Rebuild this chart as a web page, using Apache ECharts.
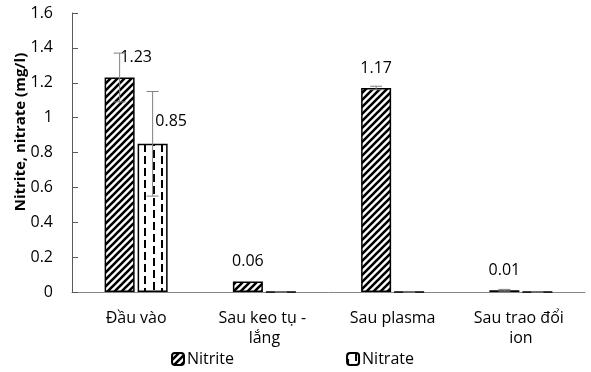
<!DOCTYPE html>
<html>
<head>
<meta charset="utf-8">
<script src="https://cdn.jsdelivr.net/npm/echarts@6/dist/echarts.min.js"></script>
<style>
html,body{margin:0;padding:0;background:#fff;}
#chart{width:591px;height:372px;}
</style>
</head>
<body>
<div id="chart"></div>
<script>
// ---- data ----
var categories = ['Đầu vào', 'Sau keo tụ - lắng', 'Sau plasma', 'Sau trao đổi ion'];
var seriesNames = ['Nitrite', 'Nitrate'];
var nitrite = [1.23, 0.06, 1.17, 0.01];
var nitrate = [0.85, 0, 0, 0];
var nitriteErr = [0.14, 0, 0.01, 0.005];
var nitrateErr = [0.30, 0, 0, 0];
var yTicks = [0, 0.2, 0.4, 0.6, 0.8, 1, 1.2, 1.4, 1.6];
var yTitle = 'Nitrite, nitrate (mg/l)';

// ---- patterns ----
function stripePattern() {
  var s = 7, c = document.createElement('canvas');
  c.width = s; c.height = s;
  var g = c.getContext('2d');
  g.fillStyle = '#fff'; g.fillRect(0, 0, s, s);
  g.strokeStyle = '#000'; g.lineWidth = 2.6;
  g.beginPath();
  g.moveTo(-1, s + 1); g.lineTo(s + 1, -1);
  g.moveTo(-1, 1); g.lineTo(1, -1);
  g.moveTo(s - 1, s + 1); g.lineTo(s + 1, s - 1);
  g.stroke();
  return c;
}
function dashPattern() {
  var w = 17, h = 12, c = document.createElement('canvas');
  c.width = w; c.height = h;
  var g = c.getContext('2d');
  g.fillStyle = '#fff'; g.fillRect(0, 0, w, h);
  g.fillStyle = '#000';
  g.fillRect(8, 0, 2, 8);
  g.fillRect(0, 6, 2, 6);
  g.fillRect(0, 0, 2, 2);
  return c;
}
var patNitrite = { image: stripePattern(), repeat: 'repeat' };
var patNitrate = { image: dashPattern(), repeat: 'repeat' };

var FONT = '"Open Sans", "Noto Sans", sans-serif';
var labelFmt = function (p) { return p.value === 0 ? '' : Number(p.value).toFixed(2); };

var nitriteData = nitrite.map(function (v, i) {
  var d = { value: v };
  if (i === 0) d.label = { offset: [16.5, 0] };
  return d;
});
var nitrateData = nitrate.map(function (v, i) {
  var d = { value: v };
  if (i === 0) d.label = { offset: [18.5, -2] };
  return d;
});

function errSeries(vals, errs, off) {
  return {
    type: 'custom',
    silent: true,
    z: 5,
    data: vals.map(function (v, i) { return [i, v, errs[i]]; }),
    renderItem: function (params, api) {
      var cat = api.value(0), v = api.value(1), e = api.value(2);
      var top = api.coord([cat, v + e]);
      var bot = api.coord([cat, Math.max(0, v - e)]);
      var x = top[0] + off, cw = 6;
      var st = { stroke: '#808080', lineWidth: 1 };
      return {
        type: 'group',
        children: [
          { type: 'line', shape: { x1: x, y1: top[1], x2: x, y2: bot[1] }, style: st },
          { type: 'line', shape: { x1: x - cw, y1: top[1], x2: x + cw, y2: top[1] }, style: st },
          { type: 'line', shape: { x1: x - cw, y1: bot[1], x2: x + cw, y2: bot[1] }, style: st }
        ]
      };
    }
  };
}

var chart = echarts.init(document.getElementById('chart'));
chart.setOption({
  animation: false,
  backgroundColor: '#fff',
  textStyle: { fontFamily: FONT },
  grid: { left: 72, right: 6, top: 13, bottom: 80, containLabel: false },
  legend: {
    data: seriesNames,
    left: 171,
    top: 351,
    padding: 0,
    itemGap: 112,
    itemWidth: 12,
    itemHeight: 12,
    textStyle: { fontSize: 16, color: '#000', fontFamily: FONT, padding: [0, 0, 0, -2] }
  },
  graphic: [{
    type: 'text',
    x: 21, y: 132,
    rotation: Math.PI / 2,
    style: {
      text: yTitle,
      fontFamily: FONT, fontSize: 15, fontWeight: 'bold', fill: '#000',
      align: 'center', verticalAlign: 'middle'
    }
  }],
  xAxis: {
    type: 'category',
    data: categories,
    axisLine: { lineStyle: { color: '#868686', width: 1 } },
    axisTick: { show: false },
    axisLabel: {
      color: '#000', fontSize: 16, fontFamily: FONT, margin: 16,
      width: 112, overflow: 'break', lineHeight: 20, interval: 0
    }
  },
  yAxis: {
    type: 'value',
    min: yTicks[0], max: yTicks[yTicks.length - 1], interval: 0.2,
    splitLine: { show: false },
    axisLine: { show: true, lineStyle: { color: '#595959', width: 1 } },
    axisTick: { show: true, inside: true, length: 6, lineStyle: { color: '#595959' } },
    axisLabel: { color: '#000', fontSize: 16, fontFamily: FONT, margin: 19 }
  },
  series: [
    {
      name: seriesNames[0], type: 'bar', data: nitriteData,
      barWidth: 30, barGap: '10%',
      itemStyle: { color: patNitrite, borderColor: '#000', borderWidth: 1.5 },
      label: { show: true, position: 'top', distance: 12, fontSize: 16, color: '#000', fontFamily: FONT, formatter: labelFmt }
    },
    {
      name: seriesNames[1], type: 'bar', data: nitrateData,
      barWidth: 30,
      itemStyle: { color: patNitrate, borderColor: '#000', borderWidth: 1.5 },
      label: { show: true, position: 'top', distance: 12, fontSize: 16, color: '#000', fontFamily: FONT, formatter: labelFmt }
    },
    errSeries(nitrite, nitriteErr, -16.5),
    errSeries(nitrate, nitrateErr, 16.5)
  ]
});
</script>
</body>
</html>
